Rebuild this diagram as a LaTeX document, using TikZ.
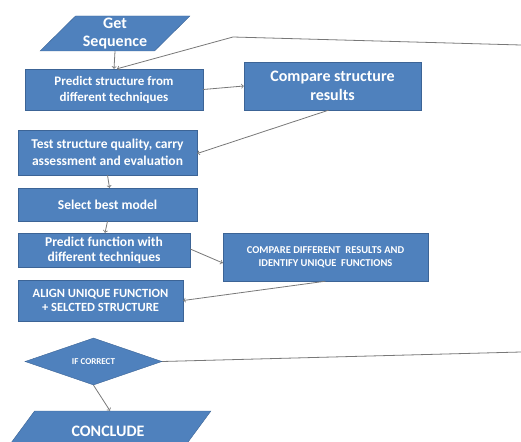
\documentclass[tikz,border=0pt]{standalone}
\usepackage{fontspec}
\setmainfont{Carlito}
\usetikzlibrary{shapes.geometric}
\definecolor{boxblue}{RGB}{79,129,189}
\definecolor{boxedge}{RGB}{60,100,150}
\definecolor{linegray}{RGB}{120,120,120}

\begin{document}
\begin{tikzpicture}[x=1pt, y=-1pt,
	box/.style={draw=boxedge, fill=boxblue, text=white, font=\bfseries,
		align=center, inner sep=1pt},
	slant/.style={box, trapezium, trapezium stretches=true},
	flow/.style={->, linegray, line width=0.8pt}]
		\useasboundingbox (0, 0) rectangle (521, 441);
		% input and structure part
		\node (getseq) at (115, 33.5) [slant, trapezium left angle=48,
			trapezium right angle=132, minimum width=150pt, minimum height=35pt,
			font=\bfseries\fontsize{16}{18}\selectfont] {Get\\Sequence};
		\node (predstruct) at (114, 89.5) [box, minimum width=178pt, minimum height=41pt,
			font=\bfseries\fontsize{13}{16}\selectfont] {Predict structure from\\different techniques};
		\node (cmpstruct) at (332.5, 86) [box, minimum width=177pt, minimum height=48pt,
			font=\bfseries\fontsize{16}{19}\selectfont] {Compare structure\\results};
		\node (teststruct) at (107.5, 152.5) [box, minimum width=179pt, minimum height=45pt,
			font=\bfseries\fontsize{13.5}{16.4}\selectfont] {Test structure quality, carry\\assessment and evaluation};
		\node (bestmodel) at (107.5, 204.5) [box, minimum width=179pt, minimum height=33pt,
			font=\bfseries\fontsize{13.5}{16}\selectfont] {Select best model};
		% function part
		\node (predfunc) at (104, 250) [box, minimum width=172pt, minimum height=34pt,
			font=\bfseries\fontsize{13.5}{15}\selectfont] {Predict function with\\different techniques};
		\node (cmpfunc) at (325.5, 257) [box, minimum width=205pt, minimum height=48pt,
			font=\bfseries\fontsize{10.5}{12.5}\selectfont] {COMPARE DIFFERENT \ RESULTS AND\\IDENTIFY UNIQUE \ FUNCTIONS};
		\node (align) at (100.5, 300.5) [box, minimum width=165pt, minimum height=41pt,
			font=\bfseries\fontsize{12.5}{14.3}\selectfont] {ALIGN UNIQUE FUNCTION\\+ SELCTED STRUCTURE};
		\node (check) at (93.5, 361.5) [box, diamond, aspect=2.9, minimum width=137pt,
			minimum height=47pt, font=\bfseries\fontsize{9}{10}\selectfont] {IF CORRECT};
		\node (conclude) at (108, 431) [slant, trapezium left angle=40,
			trapezium right angle=140, minimum width=206pt, minimum height=40pt,
			font=\bfseries\fontsize{16}{18}\selectfont] {CONCLUDE};
		% loose ends
		\coordinate (bend) at (233, 37);
		\coordinate (edgetop) at (521, 45);
		\coordinate (edgelow) at (521, 352);
		% connectors
		\draw [flow] (getseq.south) -- (predstruct.north);
		\draw [flow] (edgetop) -- (bend) -- ([xshift=3pt]predstruct.north);
		\draw [flow] (predstruct.east) -- (cmpstruct.west);
		\draw [flow] ([xshift=-4pt]cmpstruct.south) -- ([yshift=-1pt]teststruct.east);
		\draw [flow] (teststruct.south) -- ([xshift=2pt]bestmodel.north);
		\draw [flow] (bestmodel.south) -- ([xshift=1pt]predfunc.north);
		\draw [flow] ([yshift=1pt]predfunc.east) -- ([yshift=-6pt]cmpfunc.west);
		\draw [flow] (cmpfunc.south) -- (align.east);
		\draw [linegray, line width=0.8pt] (check.east) -- (edgelow);
		\draw [flow] (check.south) -- ([xshift=2pt]conclude.north);
\end{tikzpicture}
\end{document}
